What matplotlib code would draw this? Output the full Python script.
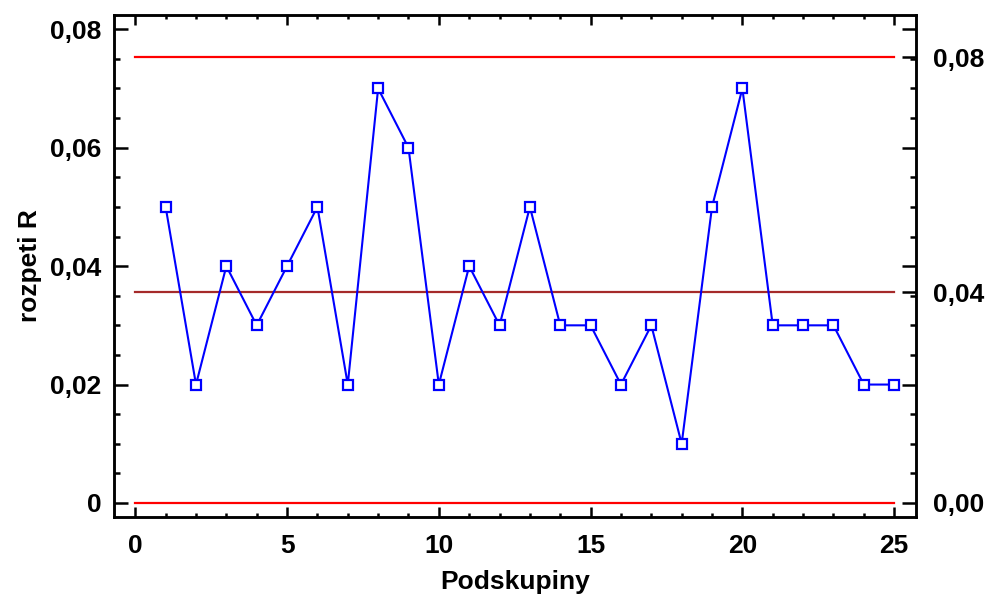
# R control chart (rozpeti) for 25 subgroups
import numpy as np
import matplotlib.pyplot as plt
from matplotlib.ticker import FixedLocator, MultipleLocator

plt.rcParams['font.family'] = ['Liberation Sans', 'DejaVu Sans']
plt.rcParams['font.weight'] = 'bold'

# data
podskupiny = np.arange(1, 26)
rozpeti = [0.05, 0.02, 0.04, 0.03, 0.04, 0.05, 0.02, 0.07, 0.06, 0.02,
           0.04, 0.03, 0.05, 0.03, 0.03, 0.02, 0.03, 0.01, 0.05, 0.07,
           0.03, 0.03, 0.03, 0.02, 0.02]
ucl = 0.0753
cl = 0.0356
lcl = 0.0
left_ticks = [0, 0.02, 0.04, 0.06, 0.08]
left_labels = ['0', '0,02', '0,04', '0,06', '0,08']
right_labels = ['0,08', '0,04', '0,00']

fig = plt.figure(figsize=(9.89, 5.96), dpi=100)
ax = fig.add_axes([0.1153, 0.1326, 0.8109, 0.8422])

ax.plot([0, 25], [ucl, ucl], color='#ff0000', lw=1.6, zorder=2)
ax.plot([0, 25], [lcl, lcl], color='#ff0000', lw=1.6, zorder=2)
ax.plot([0, 25], [cl, cl], color='#a52a2a', lw=1.6, zorder=2)
ax.plot(podskupiny, rozpeti, color='#0000ff', lw=1.5, marker='s', ms=7,
        mfc='white', mec='#0000ff', mew=1.6, zorder=3)

ax.set_xlim(-0.7, 25.72)
ax.set_ylim(-0.00236, 0.0824)

fs = 19
ax.xaxis.set_major_locator(FixedLocator([0, 5, 10, 15, 20, 25]))
ax.xaxis.set_minor_locator(MultipleLocator(1))
ax.yaxis.set_major_locator(FixedLocator(left_ticks))
ax.yaxis.set_minor_locator(MultipleLocator(0.005))
ax.set_yticklabels(left_labels)
ax.tick_params(axis='both', which='both', direction='in', width=1.8,
               labelsize=fs, top=True)
ax.tick_params(axis='y', which='major', length=10, pad=9)
ax.tick_params(axis='y', which='minor', length=4.5)
ax.tick_params(axis='x', which='major', length=7.5, pad=12)
ax.tick_params(axis='x', which='minor', length=3)
for lab in ax.get_xticklabels() + ax.get_yticklabels():
    lab.set_fontweight('bold')
for sp in ax.spines.values():
    sp.set_linewidth(1.8)

ax.set_xlabel('Podskupiny', fontsize=fs, fontweight='bold', labelpad=9)
ax.set_ylabel('rozpeti R', fontsize=fs, fontweight='bold', labelpad=6)

# right axis: limits labelled, plus mirrored ticks
ax2 = ax.twinx()
ax2.set_ylim(ax.get_ylim())
ax2.yaxis.set_major_locator(FixedLocator([0.02, 0.04, 0.06, 0.08, ucl, cl, lcl]))
ax2.yaxis.set_minor_locator(MultipleLocator(0.005))
ax2.set_yticklabels(['', '', '', ''] + right_labels)
ax2.tick_params(axis='y', which='both', direction='in', width=1.8, labelsize=fs)
ax2.tick_params(axis='y', which='major', length=10, pad=12)
ax2.tick_params(axis='y', which='minor', length=4.5)
for lab in ax2.get_yticklabels():
    lab.set_fontweight('bold')
for sp in ax2.spines.values():
    sp.set_linewidth(1.8)

plt.savefig('out.png', dpi=100)
